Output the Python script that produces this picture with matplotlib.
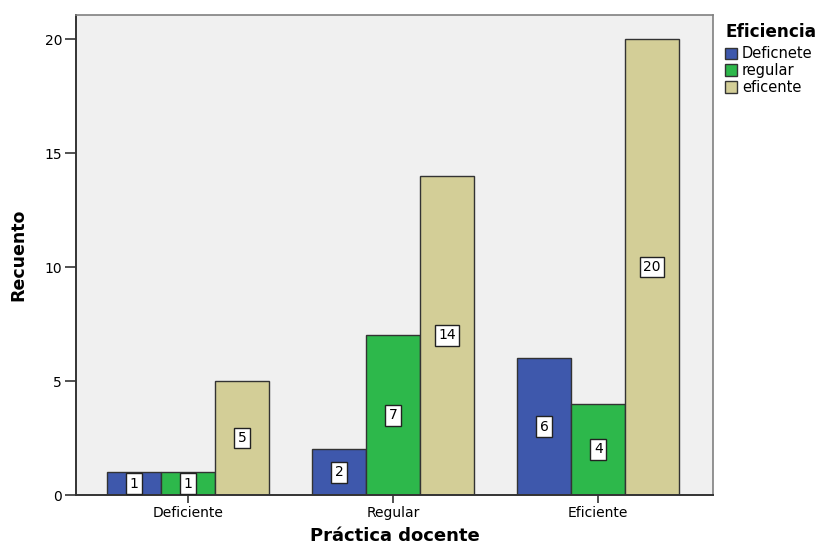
import matplotlib
matplotlib.use("Agg")
import matplotlib.pyplot as plt
import numpy as np
from matplotlib.patches import Patch

categories = ["Deficiente", "Regular", "Eficiente"]
series_names = ["Deficnete", "regular", "eficente"]
deficnete = [1, 2, 6]
regular = [1, 7, 4]
eficente = [5, 14, 20]
colors = ["#3E58AC", "#2DB84B", "#D3CE97"]
yticks = [0, 5, 10, 15, 20]

plt.rcParams['font.family'] = ['DejaVu Sans']

fig = plt.figure(figsize=(8.22, 5.46), dpi=100)
ax = fig.add_axes([0.0925, 0.0934, 0.775, 0.879])
ax.set_facecolor("#F0F0F0")

x = np.arange(len(categories))
w = 0.263
for i, (vals, name, c) in enumerate(zip([deficnete, regular, eficente], series_names, colors)):
    pos = x + (i - 1) * w
    ax.bar(pos, vals, width=w, color=c, edgecolor="#333333", linewidth=1.0, label=name, zorder=2)
    for px, v in zip(pos, vals):
        ax.text(px, v / 2, str(v), ha="center", va="center", fontsize=10, zorder=3,
                bbox=dict(boxstyle="square,pad=0.25", facecolor="white", edgecolor="#222222", linewidth=1.0))

ax.set_xlim(-0.547, 2.56)
ax.set_ylim(0, 21.05)
ax.set_xticks(x)
ax.set_xticklabels(categories, fontsize=10)
ax.set_yticks(yticks)
ax.set_yticklabels([str(t) for t in yticks], fontsize=10)
ax.tick_params(axis="y", length=8, width=1.2, color="#333333", pad=2)
ax.tick_params(axis="x", length=6, width=1.2, color="#333333", pad=2)

for s in ["left", "bottom"]:
    ax.spines[s].set_color("#333333")
    ax.spines[s].set_linewidth(1.4)
for s in ["top", "right"]:
    ax.spines[s].set_color("#808080")
    ax.spines[s].set_linewidth(1.2)

ax.set_ylabel("Recuento", fontsize=12.5, fontweight="bold", labelpad=12)
ax.set_xlabel("Práctica docente", fontsize=13, fontweight="bold", labelpad=5)

handles = [Patch(facecolor=c, edgecolor="#333333", label=n) for c, n in zip(colors, series_names)]
leg = fig.legend(handles=handles, title="Eficiencia", loc="upper left",
                 bbox_to_anchor=(0.882, 0.958), frameon=False, fontsize=10.5,
                 title_fontproperties={"weight": "bold", "size": 12.2},
                 handlelength=0.85, handleheight=0.85, handletextpad=0.3,
                 labelspacing=0.12, borderaxespad=0, borderpad=0)
leg._legend_box.align = "left"
leg._legend_box.sep = 4

fig.savefig("out.png", dpi=100)
